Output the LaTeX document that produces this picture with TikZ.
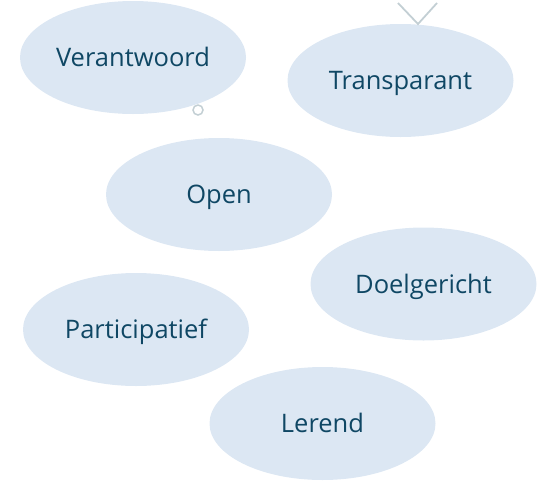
\documentclass[tikz,border=0pt]{standalone}
\usepackage{fontspec}
\setmainfont{Open Sans}
\usetikzlibrary{shapes.geometric}
\definecolor{ellfill}{HTML}{DCE7F3}
\definecolor{txt}{HTML}{0F4764}
\definecolor{mark}{HTML}{C3CFD4}
\tikzset{
  bubble/.style={ellipse, fill=ellfill, minimum width=226pt, minimum height=113pt, inner sep=0pt,
     text=txt, font=\fontsize{25.5}{30}\selectfont, text height=18pt, text depth=0pt},
  markline/.style={draw=mark, line width=1.8pt},
}
\begin{document}
\begin{tikzpicture}[x=1pt,y=-1pt]
\useasboundingbox (0,0) rectangle (538,480);
\node[bubble] (v) at (133,57.5) {Verantwoord};
\node[bubble] (t) at (400.5,80.5) {Transparant};
\node[bubble] (o) at (219,194.5) {Open};
\node[bubble] (d) at (423.5,284) {Doelgericht};
\node[bubble] (p) at (136,329.5) {Participatief};
\node[bubble] (l) at (322.5,423.5) {Lerend};
\coordinate (va) at (398,3);
\coordinate (vb) at (418,24);
\coordinate (vc) at (437,3);
\draw[markline] (va) -- (vb) -- (vc);
\node[draw=mark, line width=1.5pt, circle, minimum size=10pt, inner sep=0pt] (c) at (198,110) {};
\end{tikzpicture}
\end{document}
